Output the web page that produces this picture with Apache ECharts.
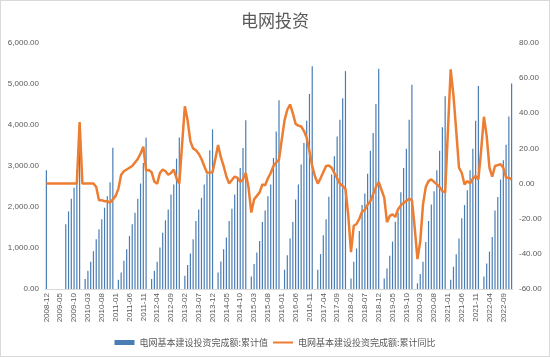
<!DOCTYPE html>
<html>
<head>
<meta charset="utf-8">
<script src="https://cdn.jsdelivr.net/npm/echarts@6/dist/echarts.min.js"></script>
<style>
html,body{margin:0;padding:0;background:#fff;}
#c{width:550px;height:357px;box-sizing:border-box;border:1px solid #d9d9d9;}
</style>
</head>
<body>
<div id="c"></div>
<script>
// Categories: monthly from 2008-12 to 2022-12
var startYear = 2008, startMonth = 12, endYear = 2022, endMonth = 12;
var categories = [];
(function(){
  var y = startYear, m = startMonth;
  while (y < endYear || (y === endYear && m <= endMonth)) {
    categories.push(y + '-' + (m < 10 ? '0' + m : '' + m));
    m++; if (m > 12) { m = 1; y++; }
  }
})();

var titleText = '电网投资';
var barName = '电网基本建设投资完成额:累计值';
var lineName = '电网基本建设投资完成额:累计同比';

// 累计值 (亿元), January not published
var investment = [
  2895,
  null, null, null, null, null, null, 1578, 1893, 2200, 2468, 2900, 3700,
  null, 243, 445, 663, 922, 1214, 1456, 1699, 1982, 2265, 2605, 3448,
  null, 227, 404, 688, 971, 1295, 1578, 1861, 2201, 2573, 3075, 3687,
  null, 243, 445, 663, 1011, 1375, 1675, 1942, 2306, 2549, 3180, 3693,
  null, 324, 583, 866, 1214, 1658, 1942, 2225, 2549, 2800, 3382, 3894,
  null, 404, 672, 971, 1254, 1658, 1960, 2306, 2700, 2950, 3440, 4118,
  null, 307, 607, 890, 1173, 1634, 1917, 2265, 2549, 3196, 3843, 4603,
  null, 469, 825, 1230, 1634, 2184, 2549, 3034, 3560, 4102, 4757, 5431,
  null, 469, 850, 1311, 1700, 2250, 2791, 3236, 3721, 4126, 4652, 5315,
  null, 259, 663, 988, 1416, 2047, 2330, 2808, 3374, 3803, 4515, 5373,
  null, 259, 502, 809, 1157, 1643, 1861, 2362, 2953, 3422, 4126, 4980,
  null, 138, 364, 663, 1148, 1658, 2063, 2387, 2896, 3374, 3948, 4699,
  null, 227, 542, 850, 1230, 1723, 2047, 2411, 2896, 3422, 4102, 4951,
  null, 307, 623, 914, 1270, 1917, 2241, 2670, 3139, 3519, 4207, 5012
];

// 累计同比 (%)
var yoy = [
  0,
  0, 0, 0, 0, 0, 0, 0, 0, 0, 0, 0, 35,
  0, 0, 0, 0, 0, -2, -9.5, -9.5, -10, -10, -10.9, -9,
  -7, -3, 5, 7, 8, 9, 10, 12, 14, 17, 21, 7.5,
  7.7, 6.5, 1, 0, 6, 8, 7, 5, 6, 8, 3, 0,
  22, 44, 36, 24, 20, 19, 17, 14, 10, 6.2, 6.3, 6.5,
  14, 22, 15, 10, 4, 0, 2, 4, 3.3, 1, 2.4, 6,
  -2.3, -16.5, -9, -7, -5, -0.5, -1, 3, 6, 10, 12, 13.7,
  25, 36, 42, 45, 40, 34, 33, 32.5, 30, 26, 18.4, 10,
  4, 0, 3, 6.5, 10, 10.3, 9, 6, 3, 0, -1.4, -3,
  -18, -39, -24, -23, -20, -16, -15, -12, -10, -6, -2, 0.9,
  -3.5, -8, -22, -18.4, -17.5, -19, -14.6, -12.4, -11, -10, -8.6, -9.5,
  -25, -43, -33, -12, -2, 1.4, 2.4, 1, -0.5, -2, -4.3, -5,
  30, 65, 50, 30, 9, 6, -0.5, 1.4, 0.1, 2.8, 4.3, 2.4,
  19, 38, 27, 9, 3.9, 10, 10.5, 11, 9, 3.3, 3.3, 2.4
];

var leftTicks = {min: 0, max: 6000, interval: 1000};
var rightTicks = {min: -60, max: 80, interval: 20};

var chart = echarts.init(document.getElementById('c'), null, {renderer: 'canvas'});
var txt = '#595959';
var fontFam = '"Liberation Sans", "Noto Sans CJK SC", sans-serif';
chart.setOption({
  animation: false,
  backgroundColor: '#ffffff',
  title: {
    text: titleText, left: 'center', top: 6,
    textStyle: {fontSize: 17, fontWeight: 'normal', color: txt, fontFamily: '"Noto Sans CJK SC", sans-serif'}
  },
  legend: {
    bottom: 4, left: 'center', itemGap: 4, itemWidth: 20, itemHeight: 5,
    textStyle: {fontSize: 9, color: txt, fontFamily: '"Noto Sans CJK SC", sans-serif'},
    data: [
      {name: barName, icon: 'rect'},
      {name: lineName, itemStyle: {color: 'rgba(0,0,0,0)', borderColor: 'rgba(0,0,0,0)', borderWidth: 0}}
    ]
  },
  grid: {left: 44, right: 36, top: 42, bottom: 67, containLabel: false},
  xAxis: {
    type: 'category', data: categories, boundaryGap: true,
    axisLine: {lineStyle: {color: '#d9d9d9'}},
    axisTick: {show: false},
    axisLabel: {interval: 4, rotate: 90, fontSize: 8, color: txt, margin: 4, fontFamily: fontFam}
  },
  yAxis: [
    {
      type: 'value', min: leftTicks.min, max: leftTicks.max, interval: leftTicks.interval,
      splitLine: {show: false}, axisLine: {show: false}, axisTick: {show: false},
      axisLabel: {fontSize: 8, color: txt, margin: 6, fontFamily: fontFam,
        formatter: function(v){ return v.toLocaleString('en-US', {minimumFractionDigits: 2, maximumFractionDigits: 2}); }}
    },
    {
      type: 'value', min: rightTicks.min, max: rightTicks.max, interval: rightTicks.interval,
      splitLine: {show: false}, axisLine: {show: false}, axisTick: {show: false},
      axisLabel: {fontSize: 8, color: txt, margin: 6, fontFamily: fontFam,
        formatter: function(v){ return v.toFixed(2); }}
    }
  ],
  series: [
    {
      name: barName, type: 'bar', data: investment, yAxisIndex: 0,
      barWidth: 1.2, itemStyle: {color: '#4a7db4'}
    },
    {
      name: lineName, type: 'line', data: yoy, yAxisIndex: 1,
      symbol: 'none', smooth: false,
      lineStyle: {width: 2.5, color: '#ed7d31'}, itemStyle: {color: '#ed7d31'}
    }
  ]
});
</script>
</body>
</html>
